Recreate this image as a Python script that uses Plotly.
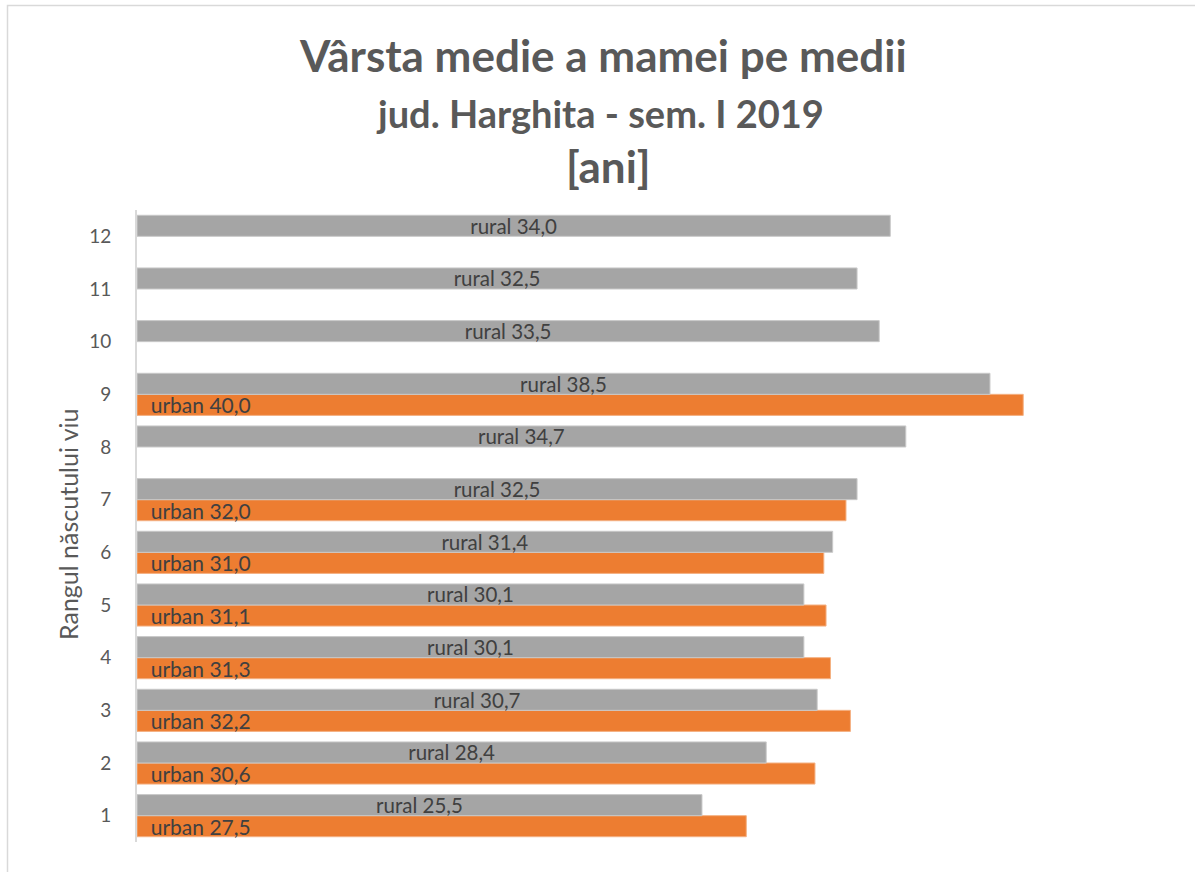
import plotly.graph_objects as go

categories = ["1", "2", "3", "4", "5", "6", "7", "8", "9", "10", "11", "12"]
rural_values = [25.5, 28.4, 30.7, 30.1, 30.1, 31.4, 32.5, 34.7, 38.5, 33.5, 32.5, 34.0]
urban_values = [27.5, 30.6, 32.2, 31.3, 31.1, 31.0, 32.0, None, 40.0, None, None, None]

title_line1 = "Vârsta medie a mamei pe medii"
title_line2 = "jud. Harghita - sem. I 2019"
title_line3 = "[ani]"
y_title = "Rangul născutului viu"

FONT = "Lato"
W, H = 1195, 872
ML, MR, MT, MB = 137, 61, 210, 30
PW, PH = W - ML - MR, H - MT - MB


def px_x(p):
    return (p - ML) / PW


def px_y(p):
    return (H - MB - p) / PH


def fmt(prefix, v):
    return None if v is None else f"{prefix} {v:.1f}".replace(".", ",")


urban_text = [("\u00a0\u00a0" + fmt("urban", v)) if v is not None else "" for v in urban_values]
rural_text = [fmt("rural", v) for v in rural_values]

fig = go.Figure()
fig.add_trace(go.Bar(
    y=categories, x=urban_values, orientation="h", name="urban",
    marker=dict(color="#ED7D31", line=dict(color="#F4B183", width=1)),
    text=urban_text, textposition="inside", insidetextanchor="start",
    textfont=dict(family=FONT, size=21, color="#404040"),
    constraintext="none", textangle=0, hoverinfo="x+y",
))
fig.add_trace(go.Bar(
    y=categories, x=rural_values, orientation="h", name="rural",
    marker=dict(color="#A5A5A5", line=dict(color="#C9C9C9", width=1)),
    text=rural_text, textposition="inside", insidetextanchor="middle",
    textfont=dict(family=FONT, size=20.5, color="#404040"),
    constraintext="none", textangle=0, hoverinfo="x+y",
))

fig.update_layout(
    width=W, height=H,
    margin=dict(l=ML, r=MR, t=MT, b=MB, autoexpand=False),
    paper_bgcolor="white", plot_bgcolor="white",
    barmode="group", bargap=0.2, bargroupgap=0,
    showlegend=False,
    font=dict(family=FONT, color="#595959"),
    xaxis=dict(range=[0, 45], showticklabels=False, showgrid=False,
               zeroline=False, showline=False, ticks=""),
    yaxis=dict(type="category", categoryorder="array", categoryarray=categories,
               range=[-0.5, 11.5], showgrid=False, zeroline=False,
               showline=True, linecolor="#D9D9D9", linewidth=2,
               ticks="", ticklabelstandoff=20,
               tickfont=dict(family=FONT, size=19, color="#595959")),
    annotations=[
        dict(text=f"<b>{title_line1}</b>", xref="paper", yref="paper",
             x=px_x(603), y=px_y(55), xanchor="center", yanchor="middle",
             showarrow=False, font=dict(family=FONT, size=44, color="#595959")),
        dict(text=f"<b>{title_line2}</b>", xref="paper", yref="paper",
             x=px_x(600), y=px_y(113), xanchor="center", yanchor="middle",
             showarrow=False, font=dict(family=FONT, size=38, color="#595959")),
        dict(text=f"<b>{title_line3}</b>", xref="paper", yref="paper",
             x=px_x(608), y=px_y(166), xanchor="center", yanchor="middle",
             showarrow=False, font=dict(family=FONT, size=44, color="#595959")),
        dict(text=y_title, xref="paper", yref="paper",
             x=px_x(68), y=px_y(524), xanchor="center", yanchor="middle",
             textangle=-90, showarrow=False,
             font=dict(family=FONT, size=25, color="#595959")),
    ],
    shapes=[
        dict(type="rect", xref="paper", yref="paper",
             x0=px_x(7.5), x1=px_x(1210), y0=px_y(890), y1=px_y(5.5),
             line=dict(color="#D9D9D9", width=1.5), fillcolor="rgba(0,0,0,0)",
             layer="below"),
    ],
)

fig.write_html("out.html", config={"displayModeBar": False},
               post_script="document.body.style.margin='0px';")
